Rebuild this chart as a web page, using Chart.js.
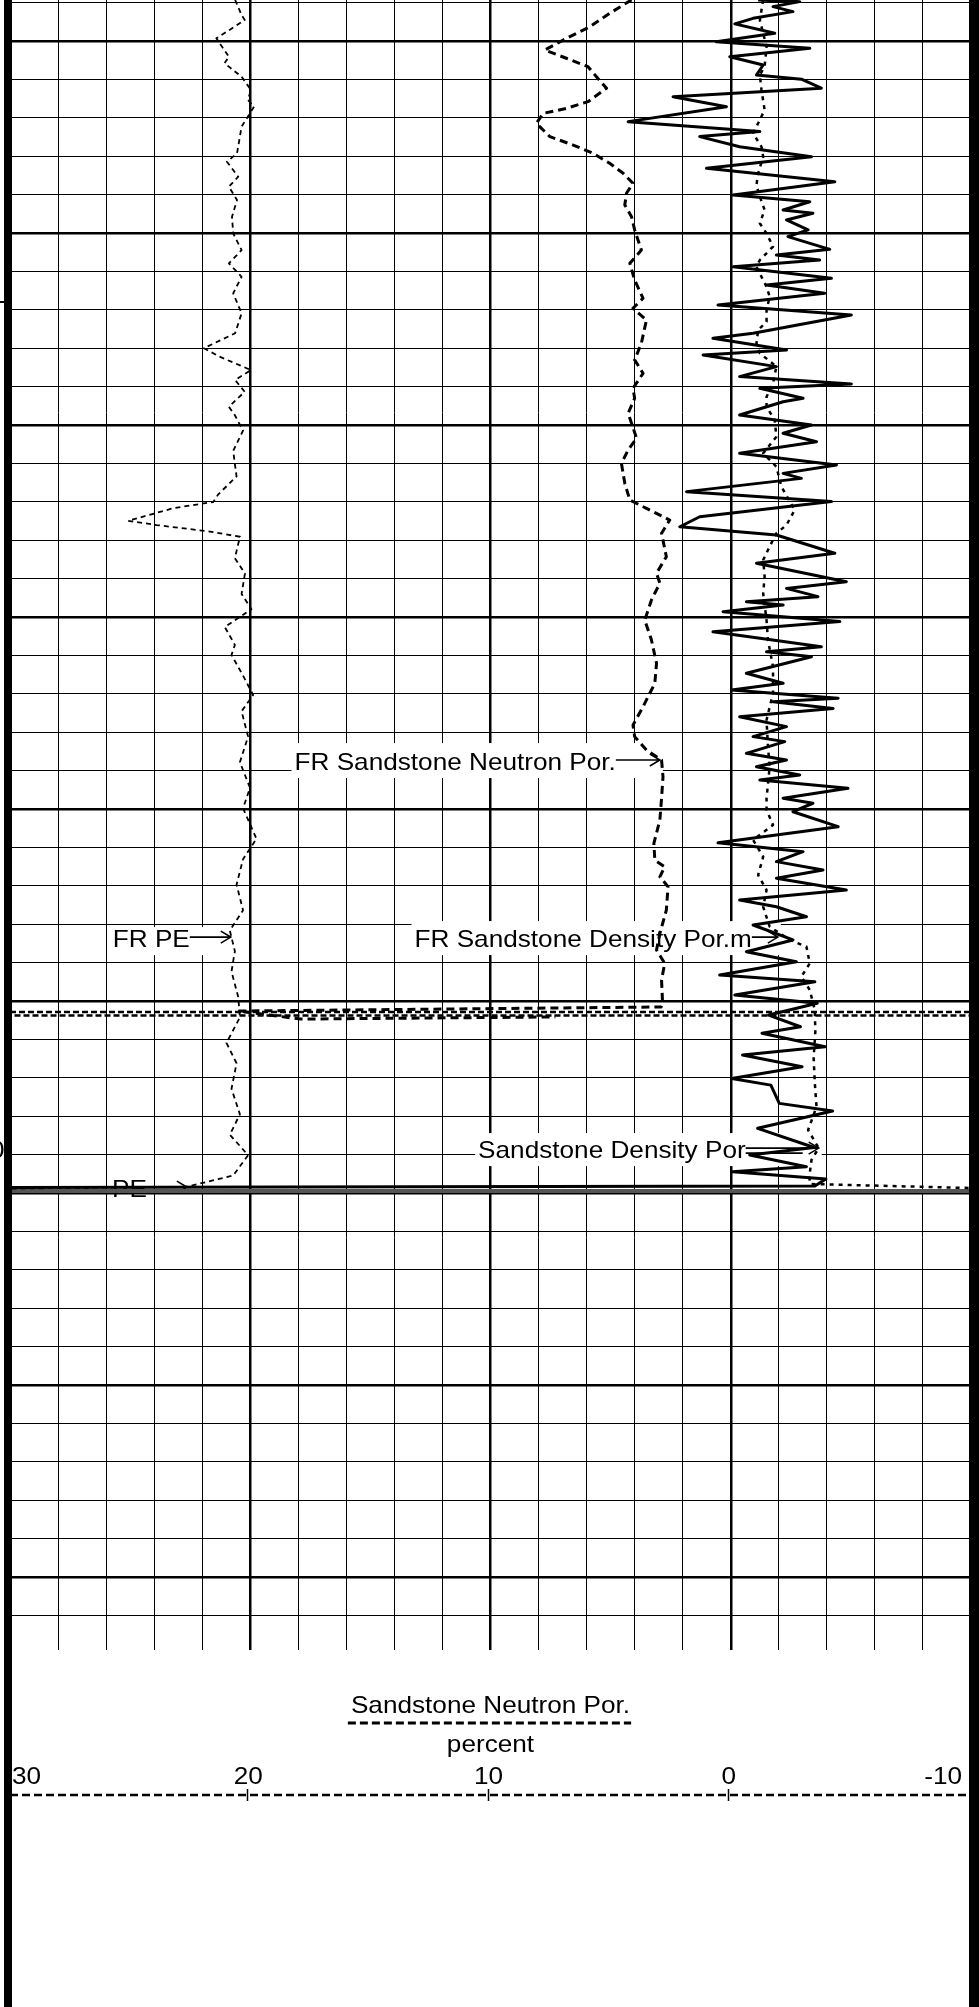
<!DOCTYPE html>
<html>
<head>
<meta charset="utf-8">
<title>Porosity / PE log track</title>
<script src="https://cdn.jsdelivr.net/npm/chart.js@4.4.1/dist/chart.umd.min.js"></script>
<style>
  html, body { margin: 0; padding: 0; background: #fff; }
  #wrap { position: relative; width: 979px; height: 2007px; }
</style>
</head>
<body>
<div id="wrap"><canvas id="log"></canvas></div>
<script>
// ---- Track range (percent, sandstone matrix) and depth window (ft) ----
const trackLeft = 30;
const trackRight = -10;
const depthTop = 3697.865;
const depthBottom = 3783.80;

// ---- Curve readings: depth (ft) and value (percent scale of the track) ----
const neutronDepth = [3697.86,3698.56,3699.26,3699.86,3700.47,3700.90,3701.34,3701.86,3702.46,3703.16,3703.51,3703.77,3704.29,3704.98,3705.42,3705.85,3706.37,3706.89,3707.41,3707.93,3708.54,3709.15,3709.84,3710.89,3711.58,3712.45,3713.40,3713.92,3714.53,3715.74,3716.61,3717.31,3718.09,3718.61,3719.39,3720.69,3721.30,3722.00,3723.04,3723.91,3724.34,3724.95,3725.64,3726.86,3727.72,3728.24,3729.11,3730.16,3731.20,3732.41,3733.45,3734.67,3735.63,3736.23,3736.93,3737.45,3738.32,3739.44,3740.57,3741.79,3742.66,3743.01,3743.53,3744.05,3745.26,3746.48,3747.34,3748.04,3748.91,3750.04,3750.31,3750.52,3750.94,3750.83];
const neutronPor = [4.13,5.04,5.87,6.84,7.74,6.84,5.94,5.59,5.17,5.94,6.84,7.81,8.09,7.53,6.56,5.73,5.04,4.48,4.07,4.34,4.41,4.13,4.00,3.72,4.20,4.00,3.65,4.07,3.51,3.72,4.00,3.65,4.07,4.00,4.27,3.92,4.27,4.55,4.41,4.20,3.51,2.54,2.88,2.68,3.09,2.95,3.30,3.58,3.30,3.09,3.16,3.65,4.07,4.00,3.51,2.88,2.82,2.88,2.95,3.20,3.16,2.75,2.95,2.61,2.68,2.95,3.09,2.75,2.88,2.84,2.90,20.5,17.9,7.3];

const peDepth = [3697.86,3698.65,3698.91,3699.86,3700.82,3701.16,3701.86,3702.55,3703.07,3703.42,3704.46,3705.85,3706.29,3707.07,3707.59,3708.28,3709.15,3710.02,3710.89,3711.58,3712.28,3713.14,3714.18,3715.22,3716.00,3716.44,3717.14,3717.66,3718.27,3719.05,3719.49,3720.29,3721.35,3722.68,3723.61,3724.01,3724.33,3724.99,3725.21,3725.55,3725.82,3726.94,3727.73,3728.80,3729.59,3730.52,3731.45,3731.98,3733.05,3734.06,3734.91,3736.23,3737.56,3738.90,3739.96,3741.55,3742.61,3743.94,3745.27,3746.33,3747.40,3748.46,3749.79,3750.85,3752.18,3753.24,3754.57,3755.90,3756.96,3758.03,3759.09,3759.67,3759.77];
const pe = [20.63,20.36,20.23,21.41,20.89,21.07,20.36,19.97,20.10,19.84,20.36,20.55,20.97,20.50,20.89,20.55,20.76,20.71,20.36,20.89,20.36,20.71,20.36,20.63,21.93,21.28,19.97,20.63,20.23,20.89,20.64,20.30,20.71,20.57,21.33,21.54,23.20,25.08,23.90,21.68,20.43,20.64,20.22,20.36,19.95,21.06,20.64,20.78,20.30,19.88,20.36,20.09,20.43,20.01,20.30,19.74,20.30,20.57,20.30,20.85,20.64,20.78,20.50,20.43,20.99,20.57,20.78,20.43,20.85,20.09,20.71,22.65,30];

const densityDepth = [3697.86,3697.95,3698.21,3698.47,3698.82,3699.11,3699.60,3700.04,3700.38,3700.82,
  3701.25,3701.77,3701.99,3702.46,3702.90,3703.42,3704.20,3704.72,3704.98,3705.51,
  3706.03,3706.63,3707.33,3708.02,3708.37,3708.80,3708.97,3709.32,3709.84,3710.19,
  3710.85,3711.15,3711.41,3711.76,3712.36,3712.71,3713.14,3713.75,3714.27,3715.22,
  3715.48,3716.09,3716.35,3716.96,3717.48,3717.86,3718.09,3718.61,3718.79,3719.48,
  3720.00,3720.43,3720.87,3721.47,3722.08,3722.52,3722.78,3723.47,3723.99,3724.78,
  3725.30,3725.73,3726.68,3727.20,3728.16,3728.51,3728.94,3729.20,3729.38,3729.72,
  3730.24,3730.77,3731.55,3731.81,3732.07,3732.93,3733.45,3733.80,3734.23,3734.41,
  3734.76,3735.19,3735.71,3736.23,3736.49,3737.10,3737.45,3737.80,3738.23,3738.49,
  3738.92,3739.44,3739.70,3740.14,3740.92,3741.76,3742.22,3742.74,3743.18,3743.61,
  3744.22,3744.74,3745.09,3745.61,3746.04,3746.82,3747.43,3747.95,3748.65,3749.00,
  3749.69,3750.12,3750.73,3751.34,3751.68,3752.38,3752.81,3753.42,3754.03,3754.38,
  3755.33,3755.73,3756.63,3757.63,3758.02,3758.63,3758.89,3759.27,3759.63,3759.71];
const densityPor = [-1.14,-2.87,-1.76,-2.59,-0.93,-0.17,-1.83,0.60,-3.29,0.04,
  -1.35,-1.07,-2.94,-3.77,2.40,0.18,4.27,-1.21,1.29,-0.37,
  -3.36,1.01,-4.33,-0.10,-3.29,-2.18,-3.42,-2.32,-3.22,-2.38,
  -4.12,-1.90,-3.70,-0.10,-4.19,-1.49,-3.91,0.53,-5.02,-0.93,
  0.74,-2.32,1.15,-1.90,-0.37,-5.02,-1.21,-3.01,-2.18,-0.37,
  -3.36,-2.18,-3.57,-0.37,-4.40,-2.18,-2.94,1.84,-4.19,1.29,
  2.12,-1.90,-4.33,-1.07,-4.81,-2.32,-3.63,-0.65,-2.18,0.32,
  -4.54,0.74,-3.77,-1.49,-3.36,-0.65,-2.18,-0.03,-4.47,-1.76,
  -4.26,-0.37,-2.32,-0.93,-2.25,-0.65,-2.32,-1.07,-2.87,-1.21,
  -4.88,-2.18,-3.42,-2.59,-4.47,0.53,-3.01,-1.90,-3.84,-1.90,
  -4.81,-0.37,-1.90,-3.15,-0.93,-2.59,-0.65,-2.73,0.46,-3.50,
  -0.17,-3.60,-1.58,-2.90,-1.30,-3.93,-0.49,-2.97,-0.04,-1.67,
  -2.02,-4.24,-1.12,-3.47,-0.79,-3.15,-0.07,-3.96,-3.50,30];

const dottedDepth = [3697.86,3698.91,3699.60,3700.30,3701.34,3701.77,3702.55,3703.59,3704.11,3704.81,
  3705.51,3706.03,3706.89,3707.50,3708.11,3708.80,3709.49,3710.02,3710.71,3711.41,
  3711.76,3712.80,3713.32,3714.01,3714.62,3715.05,3715.74,3716.26,3716.96,3717.83,
  3718.53,3719.05,3719.74,3720.61,3721.47,3722.17,3723.21,3724.43,3725.21,3725.64,
  3726.33,3727.03,3727.89,3728.77,3730.16,3731.20,3732.59,3733.97,3735.36,3736.76,
  3737.80,3739.44,3740.05,3740.83,3741.61,3742.48,3743.44,3744.22,3745.09,3746.13,
  3746.82,3747.17,3748.04,3748.73,3749.43,3750.47,3751.60,3752.97,3754.29,3755.51,
  3756.72,3757.66,3758.28,3759.15,3759.53,3759.74];
const dottedPor = [-1.35,-1.21,-1.35,-1.49,-1.41,-1.21,-1.28,-1.41,-1.21,-0.93,
  -1.28,-1.35,-1.14,-1.07,-1.21,-1.41,-1.21,-1.49,-1.76,-1.21,
  -1.07,-1.49,-1.62,-1.49,-1.49,-1.14,-1.07,-1.21,-1.90,-1.76,
  -1.49,-1.49,-1.83,-1.90,-1.35,-1.90,-2.11,-2.66,-2.32,-1.90,
  -1.62,-1.35,-1.41,-1.35,-1.49,-1.55,-1.76,-1.76,-1.49,-1.55,
  -1.62,-1.49,-1.49,-1.76,-0.93,-1.35,-1.14,-1.49,-1.35,-1.62,
  -2.46,-3.15,-3.29,-2.94,-3.29,-3.50,-3.52,-3.45,-3.50,-3.57,
  -3.22,-3.66,-3.36,-3.27,-3.30,-10];

// End-of-run sweeps across the whole track
const repeatEndDepths = [3750.57, 3750.76];
const mainEndDepth = 3759.90;

// ---- Scale ticks and labels ----
const gridValues = [-10,-8,-6,-4,-2,0,2,4,6,8,10,12,14,16,18,20,22,24,26,28,30];
const majorValues = [20, 10, 0];
const scaleLabels = ['30', '20', '10', '0', '-10'];
const scaleLabelValues = [30, 20, 10, 0, -10];
const scaleTickValues = [20, 10, 0];
const scaleTitle = 'Sandstone Neutron Por.';
const scaleUnit = 'percent';

const depthGrid = [];
for (let d = 3698; d <= 3782; d += 2) depthGrid.push(d);

// ---- Curve call-outs ----
const calloutTexts = ['FR Sandstone Neutron Por.', 'FR PE', 'FR Sandstone Density Por.m', 'Sandstone Density Por', 'PE'];
const calloutDepths = [3737.45, 3746.67, 3746.67, 3757.66, 3759.69];
const calloutTips = [2.95, 20.81, -1.96, -3.66, 22.64];
const calloutStyle = [
  { arrowLen: 44, box: true, boxTop: 27 },
  { arrowLen: 41, box: true, boxTop: 20 },
  { arrowLen: 26, box: true, boxTop: 26 },
  { arrowLen: 73, box: true, boxTop: 25, double: true },
  { arrowLen: 40, box: false }
];

const FONT = '24px "Liberation Sans", Arial, sans-serif';
const SX = 1.09;

function pts(depths, values) {
  return depths.map((d, i) => ({ x: values[i], y: d }));
}
function sweep(depth) {
  return [{ x: trackLeft, y: depth }, { x: trackRight, y: depth }];
}

function drawText(ctx, s, x, y, align) {
  ctx.save();
  ctx.font = FONT;
  ctx.textBaseline = 'alphabetic';
  ctx.textAlign = 'left';
  const w = ctx.measureText(s).width * SX;
  let x0 = x;
  if (align === 'center') x0 = x - w / 2;
  else if (align === 'right') x0 = x - w;
  ctx.translate(x0, y);
  ctx.scale(SX, 1);
  ctx.fillStyle = '#000';
  ctx.fillText(s, 0, 0);
  ctx.restore();
  return w;
}
function textWidth(ctx, s) {
  ctx.save();
  ctx.font = FONT;
  const w = ctx.measureText(s).width * SX;
  ctx.restore();
  return w;
}
function drawArrow(ctx, x1, y, x2, head) {
  ctx.beginPath();
  ctx.moveTo(x1, y);
  ctx.lineTo(x2, y);
  if (head) {
    ctx.moveTo(x2 - 10, y - 6);
    ctx.lineTo(x2, y);
    ctx.lineTo(x2 - 10, y + 6);
  }
  ctx.stroke();
}

// Call-out boxes and text sit above the grid but under the curves
const calloutPlugin = {
  id: 'callouts',
  beforeDatasetsDraw(chart) {
    const ctx = chart.ctx;
    const xs = chart.scales.x, ys = chart.scales.y;
    ctx.save();
    calloutTexts.forEach((t, i) => {
      const st = calloutStyle[i];
      const tipX = xs.getPixelForValue(calloutTips[i]);
      const ay = ys.getPixelForValue(calloutDepths[i]);
      const base = ay + 10;
      const startX = tipX - st.arrowLen;
      const w = textWidth(ctx, t);
      if (st.box) {
        ctx.fillStyle = '#fff';
        ctx.fillRect(startX - w - 3, base - st.boxTop, w + st.arrowLen + 6, st.boxTop + 8);
      }
      drawText(ctx, t, startX, base, 'right');
      ctx.strokeStyle = '#000';
      ctx.lineWidth = 1.6;
      drawArrow(ctx, startX, ay, tipX, true);
      if (st.double) drawArrow(ctx, startX, ay + 5, tipX - 16, false);
    });
    ctx.restore();
  }
};

// Track borders and the scale header beneath the grid
const framePlugin = {
  id: 'frame',
  afterDraw(chart) {
    const ctx = chart.ctx;
    const a = chart.chartArea;
    const xs = chart.scales.x;
    const H = chart.height;
    ctx.save();
    ctx.fillStyle = '#000';
    ctx.fillRect(a.left - 6, 0, 8, H);
    ctx.fillRect(a.right - 2, 0, 10, H);
    // cut-off marks of the neighbouring depth track
    ctx.fillRect(0, 301, 9, 2);
    drawText(ctx, '0', -10, a.top + 1158, 'left');

    const b = a.bottom;
    const cx = xs.getPixelForValue(10);
    const tw = drawText(ctx, scaleTitle, cx, b + 63, 'center');
    ctx.strokeStyle = '#000';
    ctx.lineWidth = 3;
    ctx.setLineDash([8, 4]);
    ctx.beginPath();
    ctx.moveTo(cx - tw / 2 - 3, b + 73);
    ctx.lineTo(cx + tw / 2 + 1, b + 73);
    ctx.stroke();
    drawText(ctx, scaleUnit, cx, b + 102, 'center');

    scaleLabels.forEach((s, i) => {
      const v = scaleLabelValues[i];
      const px = xs.getPixelForValue(v);
      if (v === trackLeft) drawText(ctx, s, a.left + 2, b + 134, 'left');
      else if (v === trackRight) drawText(ctx, s, a.right - 9, b + 134, 'right');
      else drawText(ctx, s, px - 2, b + 134, 'center');
    });

    ctx.lineWidth = 2.5;
    ctx.setLineDash([8, 4]);
    ctx.beginPath();
    ctx.moveTo(a.left, b + 145);
    ctx.lineTo(a.right, b + 145);
    ctx.stroke();
    ctx.setLineDash([]);
    ctx.lineWidth = 1.5;
    scaleTickValues.forEach(v => {
      const px = Math.round(xs.getPixelForValue(v)) - 2.5;
      ctx.beginPath();
      ctx.moveTo(px, b + 139);
      ctx.lineTo(px, b + 151);
      ctx.stroke();
    });
    ctx.restore();
  }
};

const lineBase = { showLine: true, pointRadius: 0, pointHoverRadius: 0, fill: false, tension: 0,
  borderColor: '#000', borderJoinStyle: 'round', borderCapStyle: 'butt' };

new Chart(document.getElementById('log'), {
  type: 'scatter',
  data: {
    datasets: [
      Object.assign({}, lineBase, { label: 'FR Sandstone Density Por.', data: pts(densityDepth, densityPor), borderWidth: 3 }),
      Object.assign({}, lineBase, { label: 'Sandstone Density Por.', data: pts(dottedDepth, dottedPor), borderWidth: 2.5, borderDash: [4, 5] }),
      Object.assign({}, lineBase, { label: 'FR Sandstone Neutron Por.', data: pts(neutronDepth, neutronPor), borderWidth: 3, borderDash: [8, 5] }),
      Object.assign({}, lineBase, { label: 'PE', data: pts(peDepth, pe), borderWidth: 1.8, borderDash: [5, 4] }),
      Object.assign({}, lineBase, { label: 'repeat end a', data: sweep(repeatEndDepths[0]), borderWidth: 2.5, borderDash: [6, 3] }),
      Object.assign({}, lineBase, { label: 'repeat end b', data: sweep(repeatEndDepths[1]), borderWidth: 2.5, borderDash: [6, 3], borderDashOffset: 4.5 }),
      Object.assign({}, lineBase, { label: 'main end', data: sweep(mainEndDepth), borderWidth: 4, borderColor: '#555' })
    ]
  },
  options: {
    responsive: true,
    maintainAspectRatio: false,
    animation: false,
    events: [],
    layout: { autoPadding: false, padding: { left: 10, right: 8, top: 0, bottom: 357 } },
    plugins: { legend: { display: false }, tooltip: { enabled: false } },
    scales: {
      x: {
        type: 'linear', position: 'bottom', min: trackRight, max: trackLeft, reverse: true,
        afterBuildTicks: s => { s.ticks = gridValues.map(v => ({ value: v })); },
        ticks: { display: false },
        border: { display: false },
        grid: { color: '#000', drawTicks: false,
          lineWidth: c => (c.tick && majorValues.includes(c.tick.value)) ? 2.5 : 1 }
      },
      y: {
        type: 'linear', position: 'left', min: depthTop, max: depthBottom, reverse: true,
        afterBuildTicks: s => { s.ticks = depthGrid.map(v => ({ value: v })); },
        ticks: { display: false },
        border: { display: false },
        grid: { color: '#000', drawTicks: false,
          lineWidth: c => (c.tick && c.tick.value % 10 === 0) ? 2.5 : 1 }
      }
    }
  },
  plugins: [calloutPlugin, framePlugin]
});
</script>
</body>
</html>
